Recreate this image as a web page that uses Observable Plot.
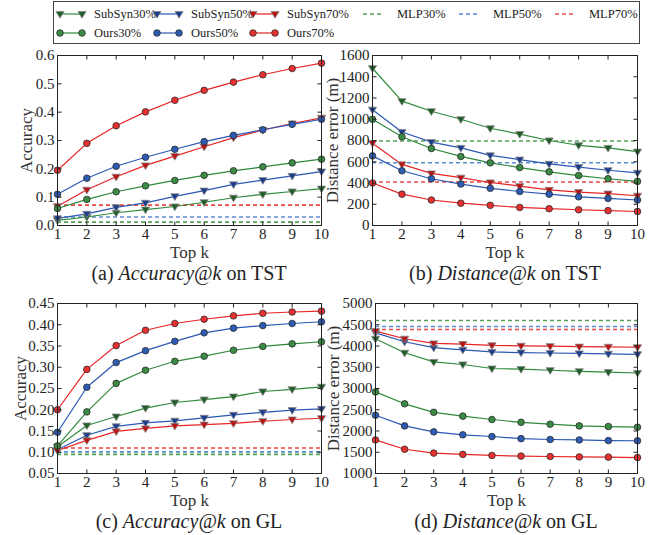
<!DOCTYPE html>
<html><head><meta charset="utf-8">
<script src="https://cdn.jsdelivr.net/npm/d3@7"></script>
<script src="https://cdn.jsdelivr.net/npm/@observablehq/plot@0.6"></script>
<style>
body{margin:0;background:#fff;}
#root{position:relative;width:665px;height:535px;font-family:"Liberation Serif","Times New Roman",serif;color:#222;overflow:hidden;}
.panel{position:absolute;}
.cap{position:absolute;transform:translate(-50%,-50%);font-size:20px;line-height:1;white-space:nowrap;color:#222;}
</style></head><body><div id="root"></div>
<script>
// ---------- data ----------
const topK = [1, 2, 3, 4, 5, 6, 7, 8, 9, 10];
const seriesNames = ["SubSyn30%", "SubSyn50%", "SubSyn70%", "Ours30%", "Ours50%", "Ours70%"];
const mlpNames = ["MLP30%", "MLP50%", "MLP70%"];

// (a) Accuracy@k on TST
const accTST_SubSyn30 = [0.018, 0.030, 0.045, 0.056, 0.067, 0.082, 0.098, 0.110, 0.120, 0.130];
const accTST_SubSyn50 = [0.025, 0.041, 0.064, 0.080, 0.103, 0.123, 0.145, 0.160, 0.175, 0.190];
const accTST_SubSyn70 = [0.068, 0.126, 0.172, 0.212, 0.245, 0.278, 0.310, 0.337, 0.360, 0.380];
const accTST_Ours30 = [0.060, 0.092, 0.119, 0.140, 0.159, 0.177, 0.193, 0.207, 0.221, 0.234];
const accTST_Ours50 = [0.110, 0.167, 0.209, 0.241, 0.269, 0.296, 0.318, 0.338, 0.357, 0.375];
const accTST_Ours70 = [0.195, 0.290, 0.352, 0.401, 0.442, 0.477, 0.506, 0.532, 0.554, 0.573];
const accTST_MLP = [0.012, 0.030, 0.072];
const accTSTTicks = [0, 0.1, 0.2, 0.3, 0.4, 0.5, 0.6];

// (b) Distance@k on TST
const distTST_SubSyn30 = [1480, 1170, 1075, 1000, 915, 860, 800, 755, 730, 695];
const distTST_SubSyn50 = [1090, 880, 785, 730, 660, 620, 580, 550, 520, 495];
const distTST_SubSyn70 = [775, 575, 490, 450, 405, 370, 335, 315, 300, 280];
const distTST_Ours30 = [1000, 835, 725, 650, 590, 545, 505, 470, 440, 415];
const distTST_Ours50 = [655, 515, 440, 390, 350, 320, 295, 270, 255, 240];
const distTST_Ours70 = [400, 295, 240, 210, 190, 170, 158, 148, 140, 132];
const distTST_MLP = [795, 590, 410];
const distTSTTicks = [0, 200, 400, 600, 800, 1000, 1200, 1400, 1600];

// (c) Accuracy@k on GL
const accGL_SubSyn30 = [0.113, 0.163, 0.184, 0.204, 0.217, 0.224, 0.231, 0.243, 0.248, 0.254];
const accGL_SubSyn50 = [0.106, 0.140, 0.161, 0.169, 0.174, 0.181, 0.188, 0.194, 0.199, 0.202];
const accGL_SubSyn70 = [0.104, 0.128, 0.149, 0.156, 0.162, 0.165, 0.168, 0.173, 0.177, 0.180];
const accGL_Ours30 = [0.115, 0.195, 0.262, 0.293, 0.314, 0.326, 0.340, 0.349, 0.355, 0.360];
const accGL_Ours50 = [0.147, 0.253, 0.311, 0.339, 0.361, 0.381, 0.392, 0.398, 0.403, 0.407];
const accGL_Ours70 = [0.200, 0.295, 0.351, 0.387, 0.403, 0.413, 0.421, 0.427, 0.430, 0.432];
const accGL_MLP = [0.095, 0.101, 0.110];
const accGLTicks = [0.05, 0.10, 0.15, 0.20, 0.25, 0.30, 0.35, 0.40, 0.45];

// (d) Distance@k on GL
const distGL_SubSyn30 = [4170, 3840, 3625, 3565, 3470, 3455, 3430, 3405, 3385, 3365];
const distGL_SubSyn50 = [4310, 4100, 3960, 3910, 3860, 3845, 3835, 3825, 3815, 3805];
const distGL_SubSyn70 = [4350, 4170, 4060, 4045, 4015, 4005, 3995, 3985, 3980, 3970];
const distGL_Ours30 = [2920, 2640, 2440, 2350, 2270, 2205, 2160, 2120, 2105, 2090];
const distGL_Ours50 = [2370, 2120, 1980, 1910, 1870, 1820, 1800, 1790, 1775, 1770];
const distGL_Ours70 = [1790, 1570, 1480, 1450, 1425, 1410, 1400, 1390, 1385, 1375];
const distGL_MLP = [4600, 4460, 4390];
const distGLTicks = [1000, 1500, 2000, 2500, 3000, 3500, 4000, 4500, 5000];

// ---------- styles ----------
const lineColors = ["#2f8a3c", "#2a58b4", "#e82424"];      // 30%, 50%, 70%
const triFill = ["#1f5e28", "#1c3c8c", "#b81414"];
const circFill = ["#3a8c44", "#2c5cb4", "#e83030"];
const dashColors = ["#55a055", "#5a8cd2", "#e84848"];
const FONT = '"Liberation Serif","Times New Roman",serif';

const triDown = {
  draw(ctx, size) {
    const r = Math.sqrt(size / Math.PI) * 1.25;
    ctx.moveTo(-r, -r * 0.62);
    ctx.lineTo(r, -r * 0.62);
    ctx.lineTo(0, r * 1.0);
    ctx.closePath();
  }
};
// short inward tick glyphs
const tickUp = {draw(ctx) { ctx.moveTo(0, 0); ctx.lineTo(0, -4); }};
const tickDown = {draw(ctx) { ctx.moveTo(0, 0); ctx.lineTo(0, 4); }};
const tickRight = {draw(ctx) { ctx.moveTo(0, 0); ctx.lineTo(4, 0); }};
const tickLeft = {draw(ctx) { ctx.moveTo(0, 0); ctx.lineTo(-4, 0); }};

function makeSeries(vals) {
  return vals.map((values, i) => {
    const c = i % 3, isOurs = i >= 3;
    return {
      name: seriesNames[i], values,
      color: lineColors[c],
      fill: isOurs ? circFill[c] : triFill[c],
      edge: isOurs ? "#2a2a2a" : "#888",
      symbol: isOurs ? "circle" : triDown
    };
  });
}

const root = document.getElementById("root");

function panel(o) {
  const tk = {fill: "none", stroke: "#222", strokeWidth: 1};
  const marks = [
    ...o.mlp.map((v, i) => Plot.ruleY([v], {stroke: dashColors[i], strokeWidth: 1.6, strokeDasharray: "4,3"})),
    ...o.series.map(s => Plot.line(s.values.map((v, j) => ({k: topK[j], v})), {x: "k", y: "v", stroke: s.color, strokeWidth: 1.2})),
    ...o.series.map(s => Plot.dot(s.values.map((v, j) => ({k: topK[j], v})), {x: "k", y: "v", symbol: s.symbol, r: 3.3, fill: s.fill, stroke: s.edge, strokeWidth: 0.8})),
    Plot.dot(topK, {x: d => d, frameAnchor: "bottom", symbol: tickUp, ...tk}),
    Plot.dot(topK, {x: d => d, frameAnchor: "top", symbol: tickDown, ...tk}),
    Plot.dot(o.yTicks, {y: d => d, frameAnchor: "left", symbol: tickRight, ...tk}),
    Plot.dot(o.yTicks, {y: d => d, frameAnchor: "right", symbol: tickLeft, ...tk}),
    Plot.frame({stroke: "#222", strokeWidth: 1}),
    Plot.axisX({ticks: topK, tickSize: 0, tickPadding: 3, tickFormat: d3.format("d")}),
    Plot.axisY({ticks: o.yTicks, tickSize: 0, tickPadding: 3, tickFormat: o.yFmt}),
    Plot.text([o.ylabel], {text: d => d, frameAnchor: "left", textAnchor: "middle", lineAnchor: "middle", dx: o.ylabelDx, rotate: -90, fontSize: 17, fontWeight: "normal", fill: "#333"}),
    Plot.text(["Top k"], {text: d => d, frameAnchor: "bottom", textAnchor: "middle", lineAnchor: "middle", dy: 27, fontSize: 17, fontWeight: "normal", fill: "#333"})
  ];
  const svg = Plot.plot({
    width: o.width, height: o.height,
    marginTop: o.mt, marginRight: o.mr, marginBottom: o.mb, marginLeft: o.ml,
    x: {domain: [1, 10], label: null},
    y: {domain: o.yDomain, label: null},
    style: {fontFamily: FONT, fontSize: "15px", color: "#222", background: "transparent", overflow: "visible"},
    marks
  });
  svg.classList.add("panel");
  svg.style.left = o.left + "px";
  svg.style.top = o.top + "px";
  root.appendChild(svg);
}

panel({left: 0, top: 40, width: 330, height: 250, mt: 15, mr: 9, mb: 65, ml: 57,
  yDomain: [0, 0.6], yTicks: accTSTTicks, yFmt: d3.format(".1f"), ylabel: "Accuracy", ylabelDx: -31,
  series: makeSeries([accTST_SubSyn30, accTST_SubSyn50, accTST_SubSyn70, accTST_Ours30, accTST_Ours50, accTST_Ours70]),
  mlp: accTST_MLP});
panel({left: 330, top: 40, width: 335, height: 250, mt: 15, mr: 28, mb: 65, ml: 42,
  yDomain: [0, 1600], yTicks: distTSTTicks, yFmt: d3.format("d"), ylabel: "Distance error (m)", ylabelDx: -40,
  series: makeSeries([distTST_SubSyn30, distTST_SubSyn50, distTST_SubSyn70, distTST_Ours30, distTST_Ours50, distTST_Ours70]),
  mlp: distTST_MLP});
panel({left: 0, top: 290, width: 330, height: 245, mt: 13, mr: 9, mb: 62, ml: 57,
  yDomain: [0.05, 0.45], yTicks: accGLTicks, yFmt: d3.format(".2f"), ylabel: "Accuracy", ylabelDx: -37,
  series: makeSeries([accGL_SubSyn30, accGL_SubSyn50, accGL_SubSyn70, accGL_Ours30, accGL_Ours50, accGL_Ours70]),
  mlp: accGL_MLP});
panel({left: 330, top: 290, width: 335, height: 245, mt: 13, mr: 28, mb: 62, ml: 45,
  yDomain: [1000, 5000], yTicks: distGLTicks, yFmt: d3.format("d"), ylabel: "Distance error (m)", ylabelDx: -42,
  series: makeSeries([distGL_SubSyn30, distGL_SubSyn50, distGL_SubSyn70, distGL_Ours30, distGL_Ours50, distGL_Ours70]),
  mlp: distGL_MLP});

// captions
const captions = [
  {x: 189, y: 273, pre: "(a) ", it: "Accuracy@k", post: " on TST"},
  {x: 505, y: 273, pre: "(b) ", it: "Distance@k", post: " on TST"},
  {x: 189, y: 521, pre: "(c) ", it: "Accuracy@k", post: " on GL"},
  {x: 506, y: 521, pre: "(d) ", it: "Distance@k", post: " on GL"}
];
captions.forEach(c => {
  const d = document.createElement("div");
  d.className = "cap";
  d.style.left = c.x + "px"; d.style.top = c.y + "px";
  d.innerHTML = c.pre + "<i>" + c.it + "</i>" + c.post;
  root.appendChild(d);
});

// legend
const leg = d3.create("svg").attr("width", 665).attr("height", 46)
  .style("position", "absolute").style("left", "0px").style("top", "0px")
  .style("font-family", FONT).style("font-size", "12.5px");
leg.append("rect").attr("x", 53.5).attr("y", 1.5).attr("width", 586).attr("height", 42)
  .attr("fill", "#fff").attr("stroke", "#444").attr("stroke-width", 1);
const legTextX = [94, 191, 287, 94, 191, 287];
const triPath = (x, y) => { const p = d3.path(); const size = Math.PI * 3.3 * 3.3; const tmp = {moveTo:(a,b)=>p.moveTo(x+a,y+b), lineTo:(a,b)=>p.lineTo(x+a,y+b), closePath:()=>p.closePath()}; triDown.draw(tmp, size); return p.toString(); };
seriesNames.forEach((name, i) => {
  const c = i % 3, isOurs = i >= 3;
  const y = isOurs ? 33 : 14;
  const tx = legTextX[i];
  const x0 = tx - 34, x1 = tx - 12;
  leg.append("line").attr("x1", x0).attr("x2", x1).attr("y1", y).attr("y2", y).attr("stroke", lineColors[c]).attr("stroke-width", 1.2);
  [x0, x1].forEach(x => {
    if (isOurs) leg.append("circle").attr("cx", x).attr("cy", y).attr("r", 3.3).attr("fill", circFill[c]).attr("stroke", "#2a2a2a").attr("stroke-width", 0.8);
    else leg.append("path").attr("d", triPath(x, y)).attr("fill", triFill[c]).attr("stroke", "#888").attr("stroke-width", 0.8);
  });
  leg.append("text").attr("x", tx).attr("y", y).attr("dy", "0.35em").attr("fill", "#222").text(name);
});
const mlpTextX = [397, 493, 589];
mlpNames.forEach((name, i) => {
  const tx = mlpTextX[i];
  leg.append("line").attr("x1", tx - 34).attr("x2", tx - 14).attr("y1", 14).attr("y2", 14)
    .attr("stroke", dashColors[i]).attr("stroke-width", 1.3).attr("stroke-dasharray", "4,3");
  leg.append("text").attr("x", tx).attr("y", 14).attr("dy", "0.35em").attr("fill", "#222").text(name);
});
root.appendChild(leg.node());
</script></body></html>
